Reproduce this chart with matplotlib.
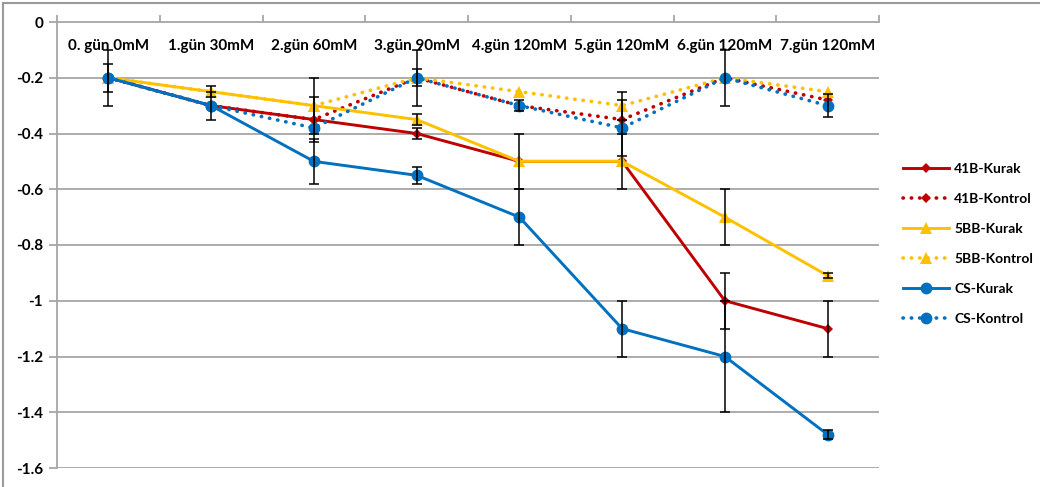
import matplotlib
matplotlib.use("Agg")
import matplotlib.pyplot as plt
from matplotlib.lines import Line2D
from matplotlib.ticker import FuncFormatter, FixedLocator

plt.rcParams['font.family'] = ['Lato', 'DejaVu Sans']
plt.rcParams['font.weight'] = 'bold'

categories = ["0. gün 0mM", "1.gün 30mM", "2.gün 60mM", "3.gün 90mM",
              "4.gün 120mM", "5.gün 120mM", "6.gün 120mM", "7.gün 120mM"]

b41_kurak = [-0.2, -0.3, -0.35, -0.4, -0.5, -0.5, -1.0, -1.1]
b41_kontrol = [-0.2, -0.3, -0.35, -0.2, -0.3, -0.35, -0.2, -0.28]
bb5_kurak = [-0.2, -0.25, -0.3, -0.35, -0.5, -0.5, -0.7, -0.91]
bb5_kontrol = [-0.2, -0.25, -0.3, -0.2, -0.25, -0.3, -0.2, -0.25]
cs_kurak = [-0.2, -0.3, -0.5, -0.55, -0.7, -1.1, -1.2, -1.48]
cs_kontrol = [-0.2, -0.3, -0.38, -0.2, -0.3, -0.38, -0.2, -0.3]

b41_kurak_err = [0, 0, 0.08, 0.02, 0.1, 0.1, 0.1, 0.1]
b41_kontrol_err = [0, 0, 0, 0.03, 0, 0, 0, 0]
bb5_kurak_err = [0, 0.02, 0, 0.02, 0, 0, 0.1, 0.01]
bb5_kontrol_err = [0.05, 0, 0.1, 0.1, 0, 0.05, 0.1, 0]
cs_kurak_err = [0.1, 0.05, 0.08, 0.03, 0.1, 0.1, 0.2, 0.015]
cs_kontrol_err = [0, 0, 0, 0, 0.02, 0.1, 0, 0.04]

series = [
    ("41B-Kurak", b41_kurak, b41_kurak_err, "#C00000", "D", 5, "-"),
    ("41B-Kontrol", b41_kontrol, b41_kontrol_err, "#C00000", "D", 5, ":"),
    ("5BB-Kurak", bb5_kurak, bb5_kurak_err, "#FFC000", "^", 8, "-"),
    ("5BB-Kontrol", bb5_kontrol, bb5_kontrol_err, "#FFC000", "^", 8, ":"),
    ("CS-Kurak", cs_kurak, cs_kurak_err, "#0070C0", "o", 8.5, "-"),
    ("CS-Kontrol", cs_kontrol, cs_kontrol_err, "#0070C0", "o", 8.5, ":"),
]

W, H = 1040, 487
FS = 11
fig = plt.figure(figsize=(W / 100, H / 100), dpi=100)
ax = fig.add_axes([57 / W, 1 - 468 / H, (879 - 57) / W, (468 - 22) / H])

x = list(range(len(categories)))
grid_c = "#A6A6A6"

for yv in [-0.2 * k for k in range(1, 9)]:
    ax.axhline(yv, color=grid_c, lw=1.3, zorder=0)

handles = []
for z, (name, vals, err, col, mk, ms, ls) in enumerate(series):
    if ls == ":":
        line, = ax.plot(x, vals, color=col, lw=2.6, linestyle=(0, (0.1, 2.2)),
                        dash_capstyle='round', marker=mk, markersize=ms,
                        markeredgewidth=0, zorder=3 + z)
    else:
        line, = ax.plot(x, vals, color=col, lw=2.1, linestyle='-', marker=mk,
                        markersize=ms, markeredgewidth=0, zorder=3 + z)
    xs = [xi for xi, e in zip(x, err) if e > 0]
    ys = [v for v, e in zip(vals, err) if e > 0]
    es = [e for e in err if e > 0]
    if xs:
        ax.errorbar(xs, ys, yerr=es, fmt='none', ecolor='black', elinewidth=1.1,
                    capsize=3.5, capthick=1.1, zorder=10)
    handles.append(line)

ax.set_xlim(-0.5, len(categories) - 0.5)
ax.set_ylim(-1.6, 0)

# category axis sits on the top edge (y = 0)
ax.xaxis.tick_top()
ax.xaxis.set_major_locator(FixedLocator(x))
ax.set_xticklabels(categories, fontsize=FS, fontweight='bold')
ax.xaxis.set_minor_locator(FixedLocator([i - 0.5 for i in range(len(categories) + 1)]))
ax.tick_params(axis='x', which='major', top=True, bottom=False, labeltop=True,
               labelbottom=False, length=0, pad=-22)
ax.tick_params(axis='x', which='minor', top=True, bottom=False, length=5,
               color=grid_c, width=1.3)

ax.set_yticks([-0.2 * k for k in range(0, 9)])
ax.yaxis.set_major_formatter(FuncFormatter(lambda v, p: "0" if abs(v) < 1e-9 else f"{v:g}"))
ax.tick_params(axis='y', length=6, color=grid_c, width=1.3, labelsize=FS, pad=4)
for lab in ax.get_yticklabels():
    lab.set_fontweight('bold')

for s in ['right', 'bottom']:
    ax.spines[s].set_visible(False)
for s in ['left', 'top']:
    ax.spines[s].set_color(grid_c)
    ax.spines[s].set_linewidth(1.3)

leg = fig.legend(handles, [s[0] for s in series], loc='center left',
                 bbox_to_anchor=(903 / W, 1 - 244 / H), frameon=False,
                 handlelength=3.3, labelspacing=1.3, handletextpad=0.4,
                 borderaxespad=0, borderpad=0,
                 prop={'size': 10, 'weight': 'bold'})

# outer chart frame
fig.add_artist(Line2D([3 / W, 1], [1 - 3 / H, 1 - 3 / H], color="#9A9A9A", lw=1.5))
fig.add_artist(Line2D([3 / W, 3 / W], [0, 1 - 3 / H], color="#9A9A9A", lw=1.5))

fig.savefig("out.png", dpi=100)
